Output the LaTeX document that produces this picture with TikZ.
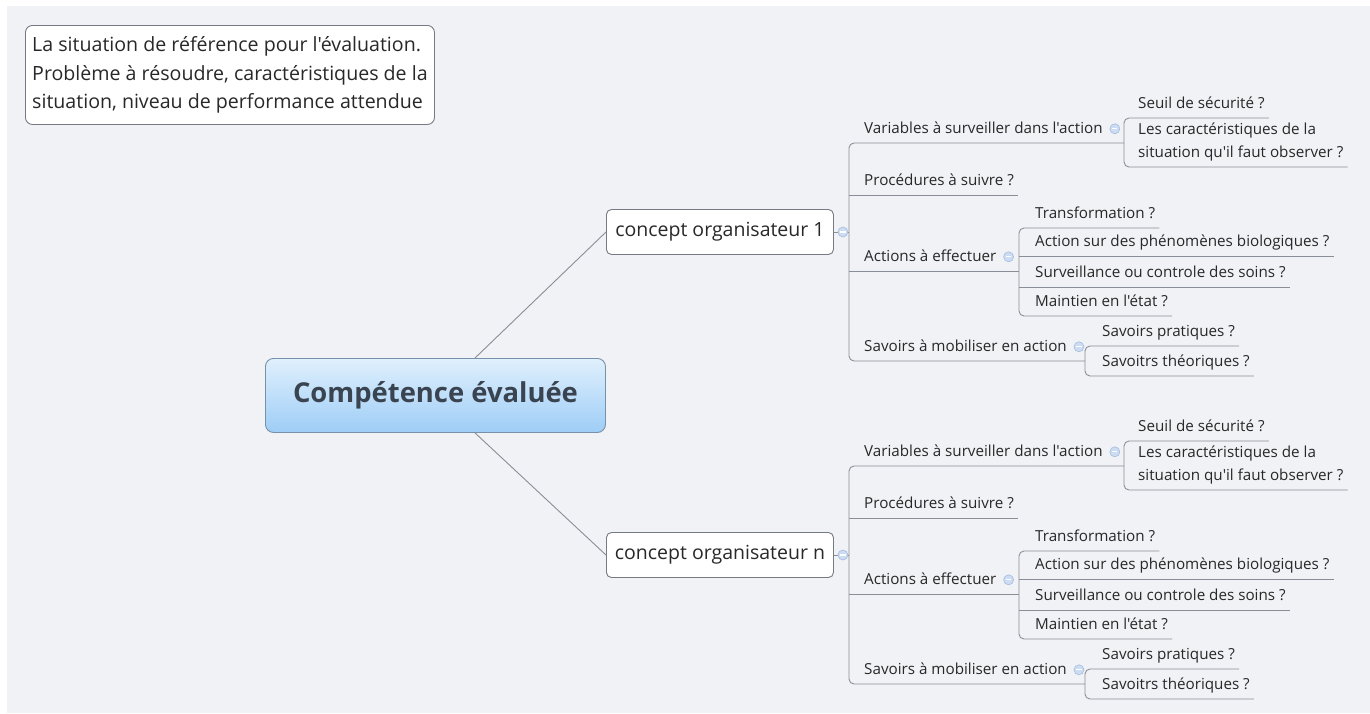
\documentclass[tikz,border=0pt]{standalone}
\usepackage{fontspec}
\setmainfont{Open Sans}[Ligatures=TeXOff]
\usetikzlibrary{calc}
\definecolor{bg}{RGB}{241,242,246}
\definecolor{ln}{RGB}{138,142,150}
\definecolor{bd}{RGB}{118,122,130}
\definecolor{tx}{RGB}{40,40,40}
\definecolor{ctop}{RGB}{224,240,253}
\definecolor{cbot}{RGB}{158,205,246}
\definecolor{cbd}{RGB}{120,145,170}
\definecolor{ctx}{RGB}{58,68,80}
\definecolor{btnf}{RGB}{204,220,243}
\definecolor{btnd}{RGB}{165,188,222}

\newcommand{\mybranch}[1]{%
  \node[concept] (c) at (606,232) {#1};
  % level 2
  \node[sub] (v) at (849,143) {\hspace*{15pt}Variables à surveiller dans l'action\hspace*{4pt}};
  \node[sub] (p) at (849,195) {\hspace*{15pt}Procédures à suivre ?\hspace*{4pt}};
  \node[sub] (a) at (849,271) {\hspace*{15pt}Actions à effectuer\hspace*{4pt}};
  \node[sub] (m) at (849,361) {\hspace*{15pt}Savoirs à mobiliser en action\hspace*{4pt}};
  % level 3 : variables
  \node[sub] (v1) at (1124,118) {\hspace*{14pt}Seuil de sécurité ?\hspace*{4pt}};
  \node[sub] (v2) at (1124,167) {\hspace*{14pt}\vbox{\baselineskip=23pt\hbox{Les caractéristiques de la}\hbox{situation qu'il faut observer ?}}\hspace*{4pt}};
  % level 3 : actions
  \node[sub] (a1) at (1019,228) {\hspace*{16pt}Transformation ?\hspace*{4pt}};
  \node[sub] (a2) at (1019,256) {\hspace*{16pt}Action sur des phénomènes biologiques ?\hspace*{4pt}};
  \node[sub] (a3) at (1019,287) {\hspace*{16pt}Surveillance ou controle des soins ?\hspace*{4pt}};
  \node[sub] (a4) at (1019,316) {\hspace*{16pt}Maintien en l'état ?\hspace*{4pt}};
  % level 3 : savoirs
  \node[sub] (m1) at (1085,346) {\hspace*{17pt}Savoirs pratiques ?\hspace*{4pt}};
  \node[sub] (m2) at (1085,376) {\hspace*{17pt}Savoitrs théoriques ?\hspace*{4pt}};
  % connectors
  \draw[conn] (c.east) -- (c.east -| v.south west);
  \draw[conn] (v.south west -| v1.south west) -- (v.south west) -- (m.south west) -- (m.south west -| m1.south west);
  \draw[conn] (p.south west) -- (p.south east);
  \draw[conn] (a.south west) -- (a.south west -| a1.south west);
  \draw[conn] (v1.south east) -- (v1.south west) -- (v2.south west) -- (v2.south east);
  \draw[conn] (a1.south east) -- (a1.south west) -- (a4.south west) -- (a4.south east);
  \draw[conn] (a2.south west) -- (a2.south east);
  \draw[conn] (a3.south west) -- (a3.south east);
  \draw[conn] (m1.south east) -- (m1.south west) -- (m2.south west) -- (m2.south east);
  % collapse buttons
  \node[btn] (cb) at ($(c.east)+(9,0)$) {};
  \node[btn] (vb) at ($(v.base east)+(8,-4.5)$) {};
  \node[btn] (ab) at ($(a.base east)+(8,-4.5)$) {};
  \node[btn] (mb) at ($(m.base east)+(8,-4.5)$) {};
}

\begin{document}
\begin{tikzpicture}[x=1pt,y=-1pt,
  conn/.style={draw=ln, line width=0.9pt, rounded corners=5pt},
  sub/.style={anchor=south west, inner sep=0pt, text depth=9.5pt, text=tx,
    font=\fontsize{15.2}{18}\selectfont},
  concept/.style={anchor=west, draw=bd, line width=0.9pt, fill=white, rounded corners=5pt,
    minimum width=227pt, minimum height=45pt, inner sep=0pt, text=tx,
    font=\fontsize{19.5}{22}\selectfont},
  btn/.style={circle, minimum size=10pt, inner sep=0pt, fill=btnf, draw=btnd, line width=0.6pt,
    path picture={\draw[white, line width=1.2pt] ([xshift=-2.6pt]path picture bounding box.center) -- ([xshift=2.6pt]path picture bounding box.center);}}]
  % background
  \fill[white] (0,0) rectangle (1370,713);
  \fill[bg] (7,6) rectangle (1370,713);
  \useasboundingbox (0,0) rectangle (1370,713);

  % note
  \node[draw=bd, line width=0.9pt, fill=white, rounded corners=7pt, anchor=north west,
    minimum width=409pt, minimum height=99pt, inner sep=0pt, align=left, text=tx,
    font=\fontsize{19.6}{28.5}\selectfont] (note) at (25,25)
    {La situation de référence pour l'évaluation.\\Problème à résoudre, caractéristiques de la\\situation, niveau de performance attendue};

  % central
  \node[draw=cbd, line width=0.9pt, rounded corners=8pt, top color=ctop, bottom color=cbot,
    anchor=north west, minimum width=340pt, minimum height=74pt, inner sep=0pt, text=ctx,
    font=\fontsize{27.4}{31}\selectfont\bfseries] (cen) at (265,358) {Compétence évaluée};

  \begin{scope}[name prefix=t-]
    \mybranch{concept organisateur 1}
  \end{scope}
  \begin{scope}[yshift=-323pt, name prefix=b-]
    \mybranch{concept organisateur n}
  \end{scope}

  \draw[conn] ([xshift=210pt]cen.north west) -- (t-c.west);
  \draw[conn] ([xshift=210pt]cen.south west) -- (b-c.west);
\end{tikzpicture}
\end{document}
